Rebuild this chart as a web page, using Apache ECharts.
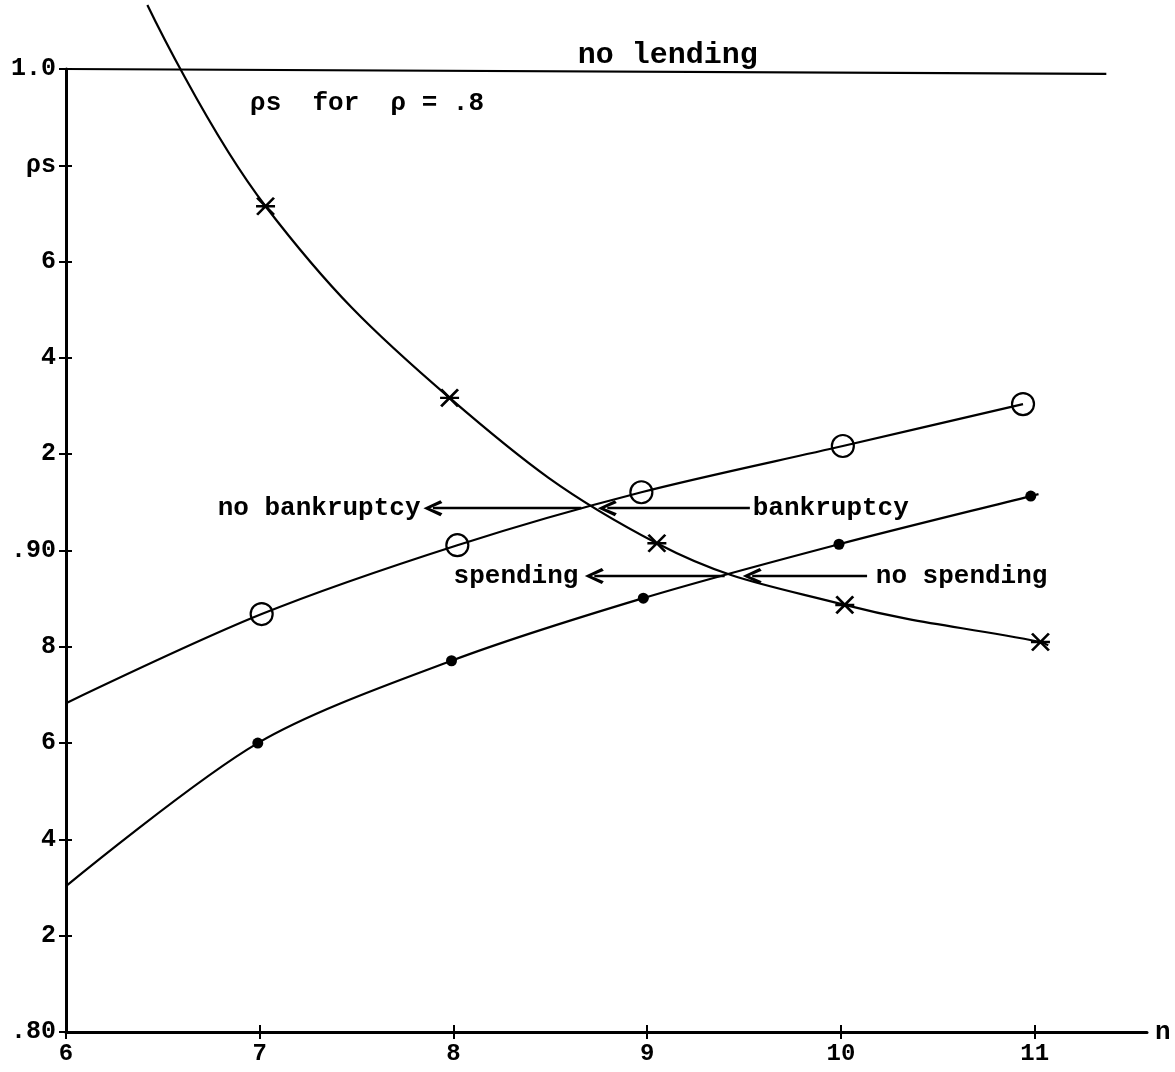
<!DOCTYPE html>
<html>
<head>
<meta charset="utf-8">
<script src="https://cdn.jsdelivr.net/npm/echarts@6/dist/echarts.min.js"></script>
<style>html,body{margin:0;padding:0;background:#fff;}#chart{width:1175px;height:1072px;}</style>
</head>
<body>
<div id="chart"></div>
<script>
// ---- data ----
const xTicks = [6, 7, 8, 9, 10, 11];
const yTicks = [0.80, 0.82, 0.84, 0.86, 0.88, 0.90, 0.92, 0.94, 0.96, 0.98, 1.00];
const yTickLabels = ['.80', '2', '4', '6', '8', '.90', '2', '4', '6', 'ρs', '1.0'];

// "no lending" level
const noLendingX = [6, 11.37];
const noLendingY = [1.0, 0.999];

// rho-s curve (X markers)
const rhoCurveX = [6.42, 7.03, 7.98, 9.05, 10.02, 11.03, 11.07];
const rhoCurveY = [1.0133, 0.9715, 0.9317, 0.9015, 0.8887, 0.881, 0.8803];
const rhoMarkX = [7.03, 7.98, 9.05, 10.02, 11.03];
const rhoMarkY = [0.9715, 0.9317, 0.9015, 0.8887, 0.881];

// open-circle curve
const circCurveX = [6, 7.01, 8.02, 8.97, 10.01, 10.94];
const circCurveY = [0.8683, 0.8868, 0.9011, 0.9121, 0.9217, 0.9304];
const circMarkX = [7.01, 8.02, 8.97, 10.01, 10.94];
const circMarkY = [0.8868, 0.9011, 0.9121, 0.9217, 0.9304];

// filled-dot curve
const dotCurveX = [6, 6.99, 7.99, 8.98, 9.99, 10.98, 11.02];
const dotCurveY = [0.8303, 0.86, 0.8771, 0.8901, 0.9013, 0.9113, 0.9117];
const dotMarkX = [6.99, 7.99, 8.98, 9.99, 10.98];
const dotMarkY = [0.86, 0.8771, 0.8901, 0.9013, 0.9113];

// annotations (data coordinates)
const annText = ['no lending', 'ρs  for  ρ = .8', 'no bankruptcy', 'bankruptcy', 'spending', 'no spending'];
const annX = [9.106, 6.95, 7.83, 9.545, 8.645, 10.18];
const annY = [1.0029, 0.9929, 0.9088, 0.9088, 0.8947, 0.8947];
const annAlign = ['center', 'left', 'right', 'left', 'right', 'left'];

// arrows: start x, arrow-tip x, y
const arrowFrom = [8.66, 9.53, 9.40, 10.135];
const arrowTip = [7.845, 8.745, 8.678, 9.493];
const arrowY = [0.9088, 0.9088, 0.8947, 0.8947];

// ---- helpers ----
const zip = (xs, ys) => xs.map((x, i) => [x, ys[i]]);
const FONT = '"Liberation Mono", "DejaVu Sans Mono", monospace';
const pxPerUnit = (1175 - 66 - 28) / (11.58 - 6);
const ARROW_LEN = 19;

const chevron = 'path://M8,0 L16,15 L13.2,16.8 L8,6 L2.8,16.8 L0,15 Z';
const xMark = 'path://M2,2 L18,16 M18,2 L2,16 M1,9 L19,9';

const chart = echarts.init(document.getElementById('chart'), null, {renderer: 'canvas'});

const lineBase = {
  type: 'line', showSymbol: false, symbol: 'none', clip: false, silent: true,
  lineStyle: {color: '#000', width: 2.2}, z: 3
};

const option = {
  backgroundColor: '#fff',
  animation: false,
  grid: {left: 66, right: 28, top: 69, bottom: 40, containLabel: false, outerBoundsMode: 'none'},
  xAxis: [{
    type: 'value', min: 6, max: 11.58, position: 'bottom',
    name: 'n', nameLocation: 'end', nameGap: 8,
    nameTextStyle: {fontFamily: FONT, fontSize: 26, fontWeight: 'bold', color: '#000', verticalAlign: 'middle', padding: [0, 0, 6, 0]},
    axisLine: {show: true, lineStyle: {color: '#000', width: 3}},
    axisTick: {show: true, customValues: xTicks, length: 7, lineStyle: {color: '#000', width: 2}},
    axisLabel: {customValues: xTicks, color: '#000', fontFamily: FONT, fontSize: 24, fontWeight: 'bold', margin: 10},
    splitLine: {show: false}
  }, {
    type: 'value', min: 6, max: 11.58, position: 'bottom',
    axisLine: {show: false},
    axisTick: {show: true, inside: true, customValues: xTicks, length: 7, lineStyle: {color: '#000', width: 2}},
    axisLabel: {show: false},
    splitLine: {show: false}
  }],
  yAxis: [{
    type: 'value', min: 0.8, max: 1.0, position: 'left',
    axisLine: {show: true, lineStyle: {color: '#000', width: 3}},
    axisTick: {show: true, customValues: yTicks, length: 7, lineStyle: {color: '#000', width: 2}},
    axisLabel: {
      customValues: yTicks, color: '#000', fontFamily: FONT, fontSize: 25, fontWeight: 'bold', margin: 10,
      formatter: v => yTickLabels[Math.round((v - 0.8) / 0.02)]
    },
    splitLine: {show: false}
  }, {
    type: 'value', min: 0.8, max: 1.0, position: 'left',
    axisLine: {show: false},
    axisTick: {show: true, inside: true, customValues: yTicks, length: 6, lineStyle: {color: '#000', width: 2}},
    axisLabel: {show: false},
    splitLine: {show: false}
  }],
  series: [
    Object.assign({}, lineBase, {name: 'no lending', data: zip(noLendingX, noLendingY), smooth: false}),
    Object.assign({}, lineBase, {name: 'rho curve', data: zip(rhoCurveX, rhoCurveY), smooth: 0.4}),
    Object.assign({}, lineBase, {name: 'circle curve', data: zip(circCurveX, circCurveY), smooth: 0.3}),
    Object.assign({}, lineBase, {name: 'dot curve', data: zip(dotCurveX, dotCurveY), smooth: 0.3}),
    {
      type: 'scatter', name: 'rho marks', silent: true, z: 5,
      data: zip(rhoMarkX, rhoMarkY), symbol: xMark, symbolSize: [19, 17],
      itemStyle: {color: 'rgba(0,0,0,0)', borderColor: '#000', borderWidth: 2.6, opacity: 1}
    },
    {
      type: 'scatter', name: 'circle marks', silent: true, z: 5,
      data: zip(circMarkX, circMarkY), symbol: 'circle', symbolSize: 22,
      itemStyle: {color: 'rgba(0,0,0,0)', borderColor: '#000', borderWidth: 2.2, opacity: 1}
    },
    {
      type: 'scatter', name: 'dot marks', silent: true, z: 5,
      data: zip(dotMarkX, dotMarkY), symbol: 'circle', symbolSize: 11,
      itemStyle: {color: '#000', opacity: 1}
    },
    {
      type: 'scatter', name: 'annotations', silent: true, clip: false, z: 6,
      symbol: 'circle', symbolSize: 0,
      itemStyle: {opacity: 1, color: '#000'},
      data: annText.map((t, i) => ({
        value: [annX[i], annY[i]], name: t,
        label: {show: true, position: 'inside', align: annAlign[i], verticalAlign: 'middle',
          formatter: '{b}', color: '#000', opacity: 1, fontFamily: FONT,
          fontSize: i === 0 ? 30 : 26, fontWeight: 'bold'}
      })),
      markLine: {
        silent: true, animation: false,
        symbol: ['none', chevron], symbolSize: [16, ARROW_LEN],
        label: {show: false},
        lineStyle: {color: '#000', width: 2.4, type: 'solid', opacity: 1},
        emphasis: {disabled: true},
        data: arrowFrom.map((x0, i) => [
          {coord: [x0, arrowY[i]]},
          {coord: [arrowTip[i] + (ARROW_LEN / 2) / pxPerUnit, arrowY[i]]}
        ])
      }
    }
  ]
};
chart.setOption(option);
</script>
</body>
</html>
